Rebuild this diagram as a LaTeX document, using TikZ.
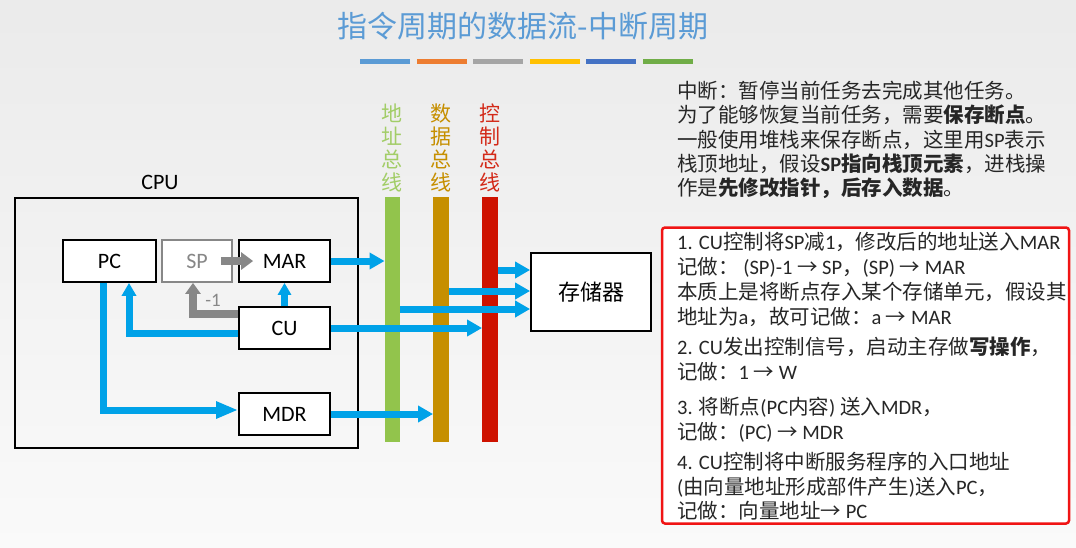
\documentclass[tikz,border=0pt]{standalone}
\usepackage{fontspec}
\setmainfont{Noto Sans CJK SC}
\newfontfamily\latinfont{Carlito}
\newcommand{\en}[1]{{\latinfont #1}}
\usetikzlibrary{arrows.meta,calc}

\definecolor{cpublue}{RGB}{0,162,232}
\definecolor{spgray}{RGB}{135,135,135}
\definecolor{titleblue}{RGB}{91,155,213}
\definecolor{barorange}{RGB}{237,125,49}
\definecolor{bargray}{RGB}{165,165,165}
\definecolor{baryellow}{RGB}{255,192,0}
\definecolor{bardarkblue}{RGB}{68,114,196}
\definecolor{bargreen}{RGB}{112,173,71}
\definecolor{addrgreen}{RGB}{146,196,76}
\definecolor{datagold}{RGB}{198,143,0}
\definecolor{ctrlred}{RGB}{206,18,0}
\definecolor{notered}{RGB}{240,20,20}

\begin{document}
\begin{tikzpicture}[
        x=1pt, y=-1pt,
        font=\latinfont\fontsize{22}{26}\selectfont,
        reg/.style={
            rectangle,
            draw=black,
            line width=1.8pt,
            fill=white,
            minimum width=91pt,
            minimum height=42pt,
            inner sep=0pt
        },
        bus/.style={rectangle, draw=none, minimum width=15.5pt, minimum height=245pt, inner sep=0pt},
        buslabel/.style={align=center, inner sep=0pt, font=\fontsize{21}{23}\selectfont},
        note/.style={anchor=north west, align=left, inner sep=0pt, text=black!85},
        busarrow/.style={-{Triangle[length=15pt,width=16pt]}, line width=7pt, draw=cpublue},
        inarrow/.style={-{Triangle[length=12pt,width=13pt]}, line width=7pt, draw=cpublue},
        grayarrow/.style={-{Triangle[length=11pt,width=15pt]}, line width=7.5pt, draw=spgray}
    ]

    \shade[top color=black!8, bottom color=black!2] (0,0) rectangle (1076,547);
    \useasboundingbox (0,0) rectangle (1076,547);

    \node[text=titleblue, font=\fontsize{30}{33}\selectfont] (title) at (523,26) {指令周期的数据流-中断周期};
    \foreach \col [count=\i from 0] in {titleblue, barorange, bargray, baryellow, bardarkblue, bargreen}
        \fill[\col] (360+56.6*\i,59) rectangle ++(50,4.5);

    % CPU and its registers
    \node[rectangle, draw=black, line width=1.8pt, minimum width=343pt, minimum height=250pt] (cpu) at (186.5,323) {};
    \node (cpulabel) at (160,182) {CPU};
    \node[reg, minimum width=93pt] (pc) at (109.5,261) {PC};
    \node[reg, minimum width=70pt, draw=spgray, text=spgray] (sp) at (197,261) {SP};
    \node[reg] (mar) at (284.5,261) {MAR};
    \node[reg] (cu) at (284.5,328) {CU};
    \node[reg] (mdr) at (284.5,414) {MDR};

    % buses and memory
    \node[bus, fill=addrgreen] (addrbus) at (392.5,319.5) {};
    \node[bus, fill=datagold] (databus) at (441,319.5) {};
    \node[bus, fill=ctrlred] (ctrlbus) at (490,319.5) {};
    \node[buslabel, text=addrgreen!85!white] (addrlabel) at (392,148) {地\\址\\总\\线};
    \node[buslabel, text=datagold] (datalabel) at (441,148) {数\\据\\总\\线};
    \node[buslabel, text=ctrlred!90!white] (ctrllabel) at (490,148) {控\\制\\总\\线};
    \node[rectangle, draw=black, line width=1.8pt, fill=white, minimum width=120pt, minimum height=78pt,
        font=\fontsize{22}{24}\selectfont] (mem) at (591,292) {存储器};

    \draw[grayarrow, line width=8pt, -{Triangle[length=12pt,width=17pt]}] ([xshift=-12pt]sp.east) -- ([xshift=15pt]mar.west);
    \draw[grayarrow] ([yshift=14pt]cu.west) -| ([xshift=-4pt]sp.south);
    \node[text=spgray, font=\latinfont\fontsize{19}{20}\selectfont] (minus) at (213,300) {-1};
    \draw[inarrow] (cu.north) -- (mar.south);
    \draw[inarrow, -{Triangle[length=13pt,width=14pt]}] ([yshift=-5pt]cu.west) -| ([xshift=19.5pt]pc.south);
    \draw[inarrow, -{Triangle[length=22pt,width=16pt]}] ([xshift=-6pt]pc.south) |- ([yshift=4pt]mdr.west);

    \draw[busarrow] (mar.east) -- (mar.east -| addrbus.west);
    \draw[busarrow] (cu.east) -- (cu.east -| ctrlbus.west);
    \draw[busarrow] (mdr.east) -- (mdr.east -| databus.west);
    \draw[busarrow] (ctrlbus.east |- 0,270) -- (mem.west |- 0,270);
    \draw[busarrow] (databus.east |- 0,291) -- (mem.west |- 0,291);
    \draw[busarrow] (addrbus.east |- 0,309) -- (mem.west |- 0,309);

    % explanation
    \node[note, font=\fontsize{20.5}{24.3}\selectfont] (intro) at (677,81) {
        中断：暂停当前任务去完成其他任务。\\
        为了能够恢复当前任务，需要\textbf{保存断点}。\\
        一般使用堆栈来保存断点，这里用\en{SP}表示\\
        栈顶地址，假设\textbf{\en{SP}指向栈顶元素}，进栈操\\
        作是\textbf{先修改指针，后存入数据}。
    };

    \node[rectangle, rounded corners=3pt, draw=notered, line width=2.5pt, fill=white,
        minimum width=407pt, minimum height=296pt] (notebox) at (865.5,375.5) {};

    \node[note, font=\fontsize{20.5}{25}\selectfont] (step1) at (677,232) {
        \en{1. CU}控制将\en{SP}减\en{1}，修改后的地址送入\en{MAR}\\
        记做：\en{ (SP)-1 }→\en{ SP}，\en{(SP) }→\en{ MAR}\\
        本质上是将断点存入某个存储单元，假设其\\
        地址为\en{a}，故可记做：\en{a }→\en{ MAR}
    };
    \node[note, font=\fontsize{20.5}{25}\selectfont] (step2) at (677,337) {
        \en{2. CU}发出控制信号，启动主存做\textbf{写操作}，\\
        记做：\en{1 }→\en{ W}
    };
    \node[note, font=\fontsize{20.5}{25}\selectfont] (step3) at (677,397) {
        \en{3. }将断点\en{(PC}内容\en{) }送入\en{MDR}，\\
        记做：\en{(PC) }→\en{ MDR}
    };
    \node[note, font=\fontsize{20.5}{24.5}\selectfont] (step4) at (677,452) {
        \en{4. CU}控制将中断服务程序的入口地址\\
        \en{(}由向量地址形成部件产生\en{)}送入\en{PC}，\\
        记做：向量地址→\en{ PC}
    };

\end{tikzpicture}
\end{document}
